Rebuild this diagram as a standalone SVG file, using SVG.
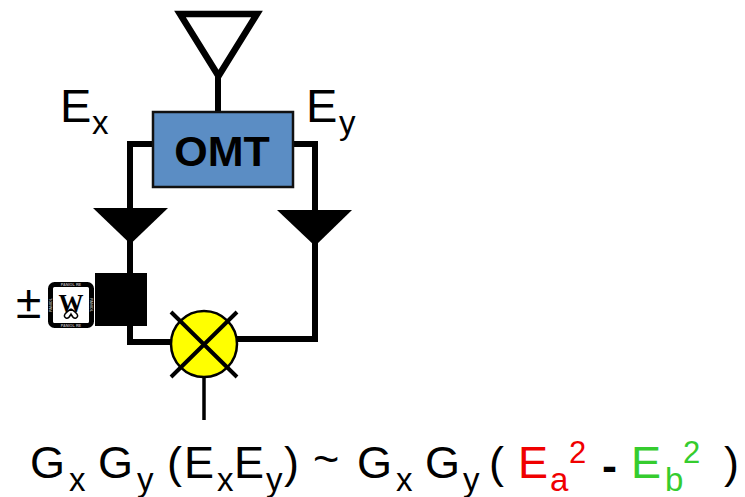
<svg xmlns="http://www.w3.org/2000/svg" width="745" height="497" viewBox="0 0 745 497">
<style>
text{font-family:"Liberation Sans",Arial,sans-serif;fill:#000}
.w{fill:none;stroke:#000;stroke-width:6}
.m{font-size:45px}
.s{font-size:33px}
.p{font-size:31px}
.r{fill:#f00000}
.g{fill:#35cc2e}
.t{font-size:3.800px;font-weight:bold;fill:#aaa;text-anchor:middle}
</style>
<rect width="745" height="497" fill="#fff"/>
<g id="connectors">
<path class="w" d="M218 76V113"/>
<path class="w" d="M153 144H130V342H172"/>
<path class="w" d="M293 144H315V339H236"/>
<path d="M204 376V420" fill="none" stroke="#000" stroke-width="3.500"/>
</g>
<g id="antenna"><path d="M180 14H257L218.500 76Z" fill="#fff" stroke="#000" stroke-width="6.500"/></g>
<g id="omt">
<rect x="153" y="112" width="140" height="75" fill="#5b8dc4" stroke="#111" stroke-width="2.500"/>
<text x="222" y="166" font-size="43" font-weight="bold" text-anchor="middle">OMT</text>
</g>
<g id="ex"><text x="60" y="122" font-size="47">E</text><text x="92" y="134" class="s">x</text></g>
<g id="ey"><text x="306" y="122" font-size="47">E</text><text x="339" y="134" class="s">y</text></g>
<g id="amp-left"><path d="M93 208H168L130.500 244Z"/></g>
<g id="amp-right"><path d="M277 210H352L315 246Z"/></g>
<g id="phase-switch">
<rect x="95" y="273" width="52" height="53"/>
<text x="16" y="318" font-size="46">±</text>
<rect x="50.500" y="284.500" width="41" height="41" rx="4" fill="#fff" stroke="#000" stroke-width="5"/>
<text x="71" y="286" class="t">PANIOL RE</text>
<text x="71" y="327" class="t">PANIOL RE</text>
<text class="t" transform="translate(52 305) rotate(-90)">PANIOL</text>
<text class="t" transform="translate(90 305) rotate(90)">PANIOL</text>
<text x="71" y="312" font-size="25" font-weight="bold" text-anchor="middle" style="font-family:'Liberation Serif',serif">W</text>
<path d="M71 309C66 312 62 316 66 318C69 319 70 316 71 314C72 316 73 319 76 318C80 316 76 312 71 309" fill="none" stroke="#000" stroke-width="1.500"/>
</g>
<g id="mixer">
<ellipse cx="204" cy="344" rx="33" ry="33" fill="#ffff00" stroke="#000" stroke-width="2.500"/>
<path d="M171 312L237 377M237 312L171 377" fill="none" stroke="#000" stroke-width="4"/>
</g>
<g id="equation">
<text x="30" y="478" class="m">G</text><text x="69" y="491" class="s">x</text>
<text x="98" y="478" class="m">G</text><text x="137" y="491" class="s">y</text>
<text x="167" y="478" class="m">(</text>
<text x="184" y="478" class="m">E</text><text x="217" y="491" class="s">x</text>
<text x="234" y="478" class="m">E</text><text x="266" y="491" class="s">y</text>
<text x="284" y="478" class="m">)</text>
<text x="313" y="474" class="m">~</text>
<text x="357" y="478" class="m">G</text><text x="396" y="491" class="s">x</text>
<text x="425" y="478" class="m">G</text><text x="463" y="491" class="s">y</text>
<text x="489" y="478" class="m">(</text>
<text x="518" y="478" class="m r">E</text><text x="550" y="491" class="s r">a</text><text x="569" y="463" class="p r">2</text>
<text x="602" y="481" class="m" font-weight="bold">-</text>
<text x="631" y="478" class="m g">E</text><text x="665" y="491" class="s g">b</text><text x="683" y="463" class="p g">2</text>
<text x="724" y="478" class="m">)</text>
</g>
</svg>
